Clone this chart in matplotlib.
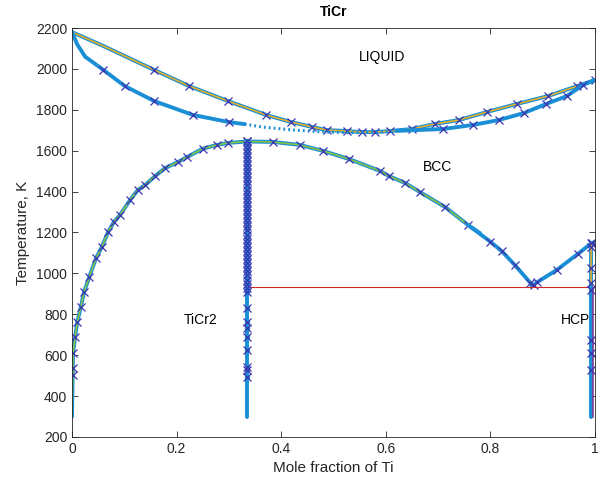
import numpy as np
import matplotlib.pyplot as plt

plt.rcParams['font.family'] = ['Liberation Sans', 'DejaVu Sans']

# Liquidus (upper curve)
liq_x = [0.0, 0.06, 0.157, 0.224, 0.298, 0.371, 0.419, 0.459, 0.487, 0.526, 0.554, 0.579,
         0.608, 0.65, 0.694, 0.74, 0.793, 0.85, 0.91, 0.966, 1.0]
liq_T = [2180, 2112, 1995, 1916, 1843, 1775, 1740, 1716, 1701, 1696, 1691, 1691,
         1696, 1706, 1731, 1750, 1789, 1828, 1867, 1916, 1946]

# Solidus (lower curve), solid parts and dotted middle
sol_left_x = [0.0, 0.01, 0.025, 0.06, 0.101, 0.157, 0.231, 0.30, 0.33]
sol_left_T = [2180, 2120, 2060, 1995, 1916, 1843, 1775, 1740, 1730]
sol_mid_x = [0.33, 0.363, 0.423, 0.48, 0.53, 0.58, 0.62]
sol_mid_T = [1730, 1716, 1701, 1692, 1688, 1690, 1697]
sol_right_x = [0.62, 0.71, 0.767, 0.816, 0.864, 0.906, 0.946, 0.977, 1.0]
sol_right_T = [1697, 1706, 1726, 1750, 1784, 1828, 1867, 1921, 1946]
liq_mark_x = [0.157, 0.224, 0.298, 0.371, 0.419, 0.459, 0.487, 0.526, 0.554, 0.579, 0.608,
              0.65, 0.694, 0.74, 0.793, 0.85, 0.91, 0.966, 1.0]
sol_mark_x = [0.06, 0.101, 0.157, 0.231, 0.30, 0.71, 0.767, 0.816, 0.864, 0.906, 0.946, 0.977]
sol_mark_T = [1995, 1916, 1843, 1775, 1740, 1706, 1726, 1750, 1784, 1828, 1867, 1921]

# BCC boundary
bcc_x = [0.0, 0.001, 0.002, 0.006, 0.01, 0.017, 0.023, 0.033, 0.046, 0.057, 0.069, 0.08,
         0.092, 0.111, 0.126, 0.14, 0.159, 0.178, 0.203, 0.22, 0.25, 0.277, 0.298, 0.334,
         0.384, 0.436, 0.48, 0.53, 0.589, 0.606, 0.637, 0.665, 0.713, 0.757, 0.78]
bcc_T = [300, 450, 611, 689, 762, 836, 909, 982, 1075, 1129, 1202, 1251,
         1286, 1359, 1408, 1432, 1476, 1515, 1545, 1569, 1610, 1628, 1638, 1645,
         1643, 1628, 1599, 1559, 1501, 1476, 1442, 1398, 1325, 1237, 1197]
bcc_mark_x = bcc_x[2:-1]
bcc_mark_T = bcc_T[2:-1]

# BCC / HCP V-shaped boundary
v_x = [0.757, 0.8, 0.822, 0.847, 0.876, 0.879, 0.89, 0.927, 0.967, 0.994, 1.0]
v_T = [1237, 1155, 1108, 1040, 955, 938, 958, 1017, 1095, 1149, 1152]
v_mark_x = [0.8, 0.822, 0.847, 0.876, 0.884, 0.89, 0.927, 0.967, 0.994]
v_mark_T = [1155, 1108, 1040, 955, 945, 958, 1017, 1095, 1149]

# TiCr2 line compound
ticr2_x = 0.334
ticr2_T = [300, 1645]
ticr2_mark_T = [1645, 1630, 1610, 1590, 1570, 1550, 1530, 1510, 1490, 1470, 1450, 1430,
                1410, 1390, 1370, 1350, 1330, 1310, 1290, 1270, 1250, 1230, 1210, 1190,
                1170, 1150, 1130, 1110, 1090, 1070, 1050, 1030, 1010, 990, 970, 950, 930,
                910, 831, 762, 733, 689, 625, 542, 528, 493]

# left edge (Cr side) markers
left_mark_T = [537, 503]

# HCP right edge
hcp_x = 0.993
hcp_T = [300, 1150]
hcp_orange_T = [950, 1150]
hcp_purple_T = [300, 930]
hcp_mark_T = [1149, 1130, 1026, 953, 919, 674, 611, 528]

# eutectoid line
eut_x = [0.334, 1.0]
eut_T = [934, 934]

blue = '#1b8fd6'
orange = '#edb120'
green = '#8cc43e'
mark = '#3d34b0'

fig = plt.figure(figsize=(5.98, 4.93), dpi=100)
ax = fig.add_axes([0.1204, 0.1136, 0.8746, 0.8296])

lw_thick = 2.8
lw_thin = 1.1
mk = dict(color=mark, ms=5.5, mew=0.9)

# liquidus
ax.plot(liq_x, liq_T, color=blue, lw=lw_thick, solid_capstyle='round')
ax.plot(liq_x, liq_T, color=orange, lw=lw_thin)
ax.plot(liq_mark_x, np.interp(liq_mark_x, liq_x, liq_T), 'x', **mk)

# solidus
ax.plot(sol_left_x, sol_left_T, color=blue, lw=lw_thick, solid_capstyle='round')
ax.plot(sol_mid_x, sol_mid_T, color=blue, lw=2.2, ls=(0, (0.6, 1.0)))
ax.plot(sol_right_x, sol_right_T, color=blue, lw=lw_thick, solid_capstyle='round')
ax.plot(sol_mark_x, sol_mark_T, 'x', **mk)

# BCC
ax.plot(bcc_x, bcc_T, color=blue, lw=lw_thick, solid_capstyle='round')
ax.plot(bcc_x, bcc_T, color=green, lw=lw_thin)
ax.plot(bcc_mark_x, bcc_mark_T, 'x', **mk)

# V boundary
ax.plot(v_x, v_T, color=blue, lw=lw_thick, solid_capstyle='round')
ax.plot(v_mark_x, v_mark_T, 'x', **mk)

# eutectoid line
ax.plot(eut_x, eut_T, color='#d62728', lw=0.8)

# TiCr2
ax.plot([ticr2_x, ticr2_x], ticr2_T, color=blue, lw=lw_thick, solid_capstyle='round')
ax.plot([ticr2_x] * len(ticr2_mark_T), ticr2_mark_T, 'o', color=blue, ms=4, mew=0)
ax.plot([ticr2_x] * len(ticr2_mark_T), ticr2_mark_T, 'x', **mk)

# left edge
ax.plot([0.002] * len(left_mark_T), left_mark_T, 'x', **mk)

# HCP
ax.plot([hcp_x, hcp_x], hcp_T, color=blue, lw=lw_thick, solid_capstyle='round')
ax.plot([hcp_x, hcp_x], hcp_orange_T, color=orange, lw=lw_thin)
ax.plot([hcp_x + 0.003, hcp_x + 0.003], hcp_purple_T, color='#7e2f8e', lw=lw_thin)
ax.plot([hcp_x] * len(hcp_mark_T), hcp_mark_T, 'x', **mk)

# labels
ax.text(0.593, 2058, 'LIQUID', fontsize=10, ha='center', va='center')
ax.text(0.698, 1520, 'BCC', fontsize=10, ha='center', va='center')
ax.text(0.245, 772, 'TiCr2', fontsize=10, ha='center', va='center')
ax.text(0.962, 772, 'HCP', fontsize=10, ha='center', va='center')

ax.set_xlim(0, 1)
ax.set_ylim(200, 2200)
ax.set_xticks([0, 0.2, 0.4, 0.6, 0.8, 1])
ax.set_xticklabels(['0', '0.2', '0.4', '0.6', '0.8', '1'])
ax.set_yticks(range(200, 2201, 200))
ax.tick_params(direction='in', top=True, right=True, length=4, width=0.6,
               labelsize=10, colors='#262626')
for s in ax.spines.values():
    s.set_color('#262626')
    s.set_linewidth(0.6)
ax.set_xlabel('Mole fraction of Ti', fontsize=11, color='#262626')
ax.set_ylabel('Temperature, K', fontsize=11, color='#262626')
ax.set_title('TiCr', fontsize=10, fontweight='bold', pad=9)

fig.savefig('out.png', dpi=100)
